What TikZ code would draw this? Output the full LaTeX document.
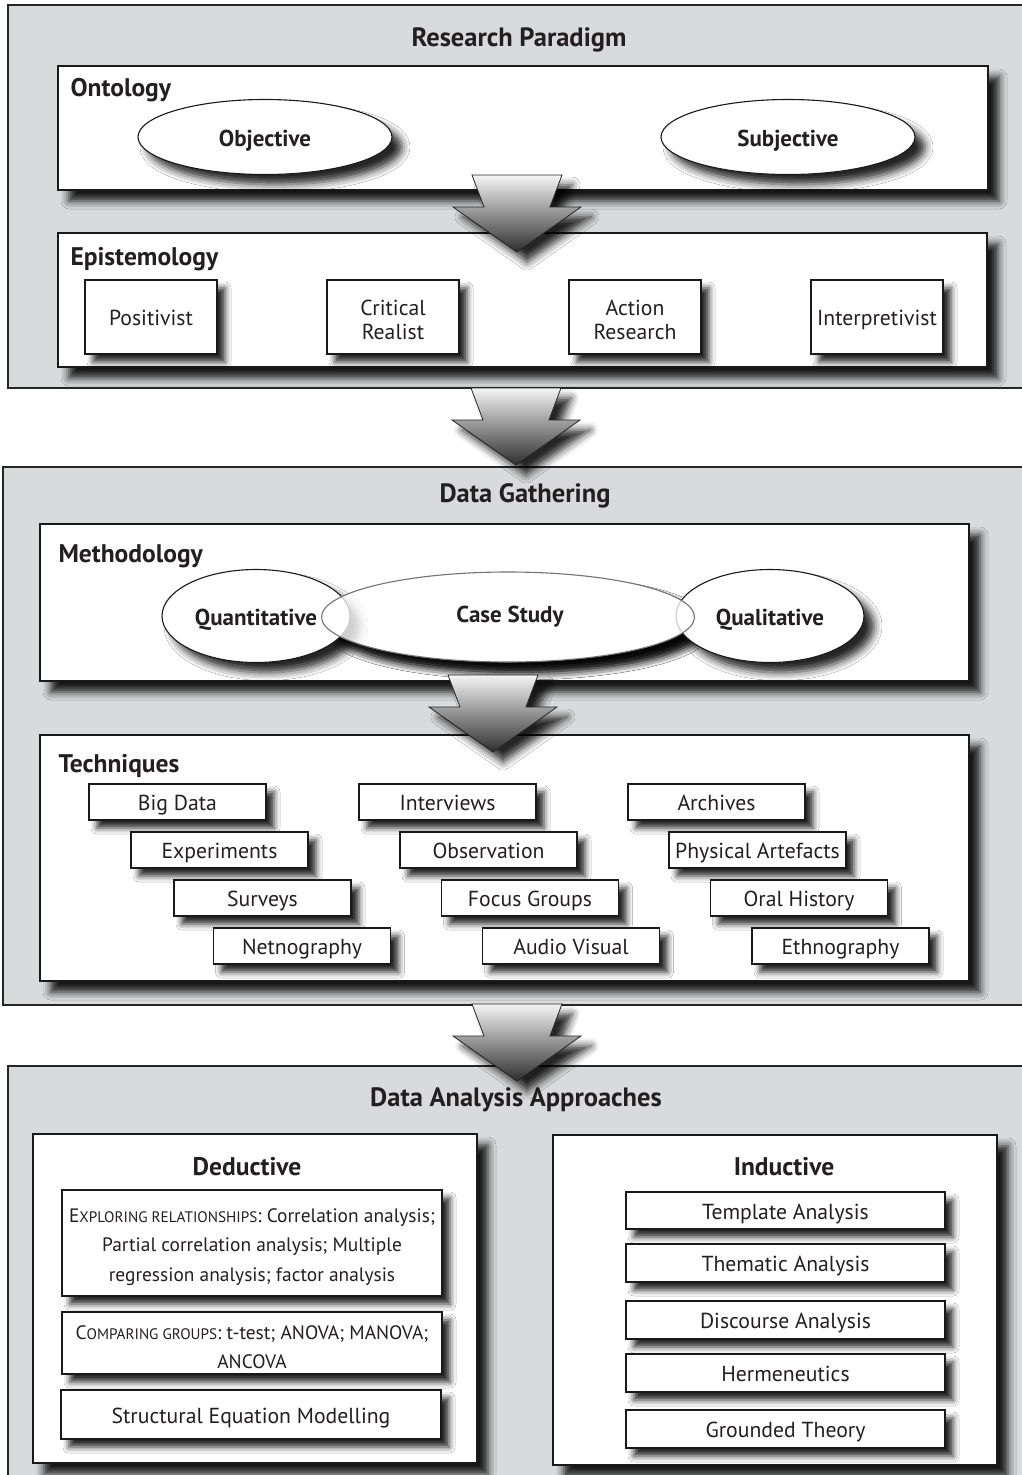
\documentclass[tikz,border=0pt]{standalone}
\usepackage{fontspec}
\setmainfont{PT Sans}
\usetikzlibrary{shadows.blur,shapes.geometric,fit}
\definecolor{panelc}{HTML}{D9DADB}
\definecolor{textc}{HTML}{231F20}
\newcommand\mysmc[1]{{\fontsize{15.2}{18}\selectfont #1}}
\tikzset{
  every node/.style={text=textc, font=\fontsize{21.7}{26}\selectfont},
  panel/.style={draw=black!85, line width=1.6pt, fill=panelc},
  frame/.style={draw=black!90, line width=1.6pt, fill=white, inner sep=0pt,
    blur shadow={shadow xshift=11pt, shadow yshift=-11pt, shadow blur radius=8pt, shadow opacity=90}},
  sbox/.style={draw=black!90, line width=1.1pt, fill=white, inner sep=0pt, align=center,
    blur shadow={shadow xshift=8pt, shadow yshift=-8pt, shadow blur radius=6pt, shadow opacity=85}},
  one/.style={text height=17pt, text depth=0pt},
  tbox/.style={sbox, one, minimum width=177pt, minimum height=36pt},
  ibox/.style={sbox, one, minimum width=319pt},
  ebox/.style={sbox, minimum width=132pt, minimum height=74pt},
  oval/.style={ellipse, draw=black!90, line width=1.1pt, fill=white, inner sep=0pt,
    font=\bfseries\fontsize{23}{27}\selectfont, text height=18pt, text depth=0pt,
    blur shadow={shadow xshift=10pt, shadow yshift=-10pt, shadow blur radius=8pt, shadow opacity=85}},
  head/.style={font=\bfseries\fontsize{26.5}{30}\selectfont},
  lab/.style={anchor=west, font=\bfseries\fontsize{25.5}{30}\selectfont},
  small/.style={font=\fontsize{19.4}{29.5}\selectfont, align=center},
  bigarr/.style={draw=black!85, line width=0.8pt, top color=black!4, bottom color=black!82,
    blur shadow={shadow xshift=10pt, shadow yshift=-10pt, shadow blur radius=8pt, shadow opacity=85}},
}
\begin{document}
\begin{tikzpicture}[x=1pt,y=-1pt]
\useasboundingbox (0,0) rectangle (1022,1475);
\clip (0,0) rectangle (1022,1475);
% ---------- panels
\node[panel, inner sep=0pt, fit={(8,5) (1030,388)}] (p1) {};
\node[panel, inner sep=0pt, fit={(3,467) (1030,1005)}] (p2) {};
\node[panel, inner sep=0pt, fit={(8,1066) (1030,1490)}] (p3) {};
\node[head] (t1) at (519,40) {Research Paradigm};
\node[head] (t2) at (525,496) {Data Gathering};
\node[head] (t3) at (516,1100) {Data Analysis Approaches};
% ---------- Ontology
\node[frame, fit={(58,66) (988,190)}] (onto) {};
\node[lab] (ontol) at (67,90) {Ontology};
\node[oval, minimum width=254pt, minimum height=75pt] (obj) at (265,137) {Objective};
\node[oval, minimum width=254pt, minimum height=75pt] (subj) at (788,137) {Subjective};
% ---------- Epistemology
\node[frame, fit={(58,233) (987,367)}] (epi) {};
\node[lab] (epil) at (67,259) {Epistemology};
\node[ebox, one] (pos) at (151,317) {Positivist};
\node[ebox] (crit) at (393,317) {};
\node[align=center] (critl) at (393,320) {Critical\\[-2pt]Realist};
\node[ebox] (act) at (635,317) {};
\node[align=center] (actl) at (635,320) {Action\\[-2pt]Research};
\node[ebox, one] (intp) at (877,317) {Interpretivist};
% ---------- Methodology
\node[frame, fit={(40,524) (969,681)}] (meth) {};
\node[lab] (methl) at (55,556) {Methodology};
\node[oval, draw=none, blur shadow={shadow xshift=10pt, shadow yshift=-10pt, shadow blur radius=8pt, shadow opacity=85},
      minimum width=373pt, minimum height=90pt] (caseb) at (508,617) {};
\node[oval, minimum width=188pt, minimum height=93pt] (quant) at (256,616) {Quantitative};
\node[oval, minimum width=188pt, minimum height=93pt] (qual) at (770,616) {Qualitative};
\node[ellipse, draw=black!55, line width=1.1pt, fill=white, fill opacity=0.78, text opacity=1,
      minimum width=373pt, minimum height=90pt] (case) at (508,617) {};
\node[font=\bfseries\fontsize{23}{27}\selectfont] (casel) at (510,617) {Case Study};
% ---------- Techniques
\node[frame, fit={(40,735) (969,981)}] (tech) {};
\node[lab] (techl) at (55,766) {Techniques};
\node[tbox] (bigd) at (177.5,802) {Big Data};
\node[tbox] (expe) at (219.5,850) {Experiments};
\node[tbox] (surv) at (262.5,898) {Surveys};
\node[tbox] (netn) at (302,946) {Netnography};
\node[tbox] (intv) at (447.5,802) {Interviews};
\node[tbox] (obsv) at (488.5,850) {Observation};
\node[tbox] (focg) at (530,898) {Focus Groups};
\node[tbox] (audv) at (571,946) {Audio Visual};
\node[tbox] (arch) at (716.5,802) {Archives};
\node[tbox] (phys) at (757.5,850) {Physical Artefacts};
\node[tbox] (oral) at (799,898) {Oral History};
\node[tbox] (ethn) at (840.5,946) {Ethnography};
% ---------- Deductive
\node[frame, fit={(33,1134) (477,1463)}] (ded) {};
\node[font=\bfseries\fontsize{25.5}{30}\selectfont] (dedl) at (247,1167) {Deductive};
\node[sbox, minimum width=380pt, minimum height=106pt] (explr) at (252,1243) {};
\node[small] (explrl) at (252,1247)
  {E\mysmc{XPLORING RELATIONSHIPS}: Correlation analysis;\\ Partial correlation analysis; Multiple\\ regression analysis; factor analysis};
\node[sbox, minimum width=380pt, minimum height=62pt] (comp) at (252,1343) {};
\node[small] (compl) at (252,1347)
  {C\mysmc{OMPARING GROUPS}: t-test; ANOVA; MANOVA;\\ ANCOVA};
\node[sbox, one, minimum width=380pt, minimum height=49pt] (sem) at (251,1414.5) {Structural Equation Modelling};
% ---------- Inductive
\node[frame, fit={(553,1135) (997,1465)}] (ind) {};
\node[font=\bfseries\fontsize{25.5}{30}\selectfont] (indl) at (784,1167) {Inductive};
\node[ibox, minimum height=37pt] (templ) at (785.5,1210.5) {Template Analysis};
\node[ibox, minimum height=38pt] (them) at (785.5,1263) {Thematic Analysis};
\node[ibox, minimum height=38pt] (disc) at (785.5,1320) {Discourse Analysis};
\node[ibox, minimum height=38pt] (herm) at (785.5,1373) {Hermeneutics};
\node[ibox, minimum height=38pt] (grnd) at (785.5,1429) {Grounded Theory};
% ---------- big arrows
\foreach \cx/\ty in {517/175, 516/388, 493/675, 517/1004} {
  \draw[bigarr] ({\cx-45},\ty) -- ({\cx+45},\ty) -- ({\cx+33},{\ty+32}) -- ({\cx+64},{\ty+32})
     -- (\cx,{\ty+77}) -- ({\cx-64},{\ty+32}) -- ({\cx-33},{\ty+32}) -- cycle;
}
\end{tikzpicture}
\end{document}
